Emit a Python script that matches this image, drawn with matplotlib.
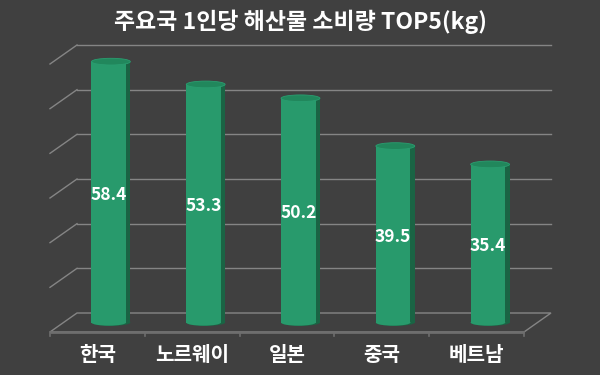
import matplotlib.pyplot as plt
from matplotlib.patches import Ellipse, Rectangle, Polygon

plt.rcParams['font.family'] = ['Noto Sans CJK KR', 'DejaVu Sans']

# Data
countries = ['한국', '노르웨이', '일본', '중국', '베트남']
values = [58.4, 53.3, 50.2, 39.5, 35.4]
y_ticks = [0, 10, 20, 30, 40, 50, 60]
title = '주요국 1인당 해산물 소비량 TOP5(kg)'

# Colours
bg = '#404040'
grid_c = '#858585'
body_c = '#289a6c'
side_c = '#1a6444'
top_c = '#21875c'

fig = plt.figure(figsize=(6, 3.75), dpi=100, facecolor=bg)
# front plane: x 50..524 px, y 332..64 px
ax = fig.add_axes([50 / 600, 43 / 375, 474 / 600, 268 / 375])
ax.set_facecolor('none')
ax.set_xlim(0, 5)
ax.set_ylim(0, 60)
ax.axis('off')

# depth offset (27 px right, 19 px up) in data units
dx = 27 / (474 / 5)
dy = 19 / (268 / 60)

# floor
floor = Polygon([(0, 0), (5, 0), (5 + dx, dy), (dx, dy)], closed=True,
                facecolor='none', edgecolor=grid_c, lw=1, clip_on=False)
ax.add_patch(floor)
ax.plot([0, 5], [0, 0], color='#6e6e6e', lw=2, clip_on=False, solid_capstyle='butt')
for i in range(6):
    ax.plot([i, i], [0, -0.8], color='#6e6e6e', lw=1.2, clip_on=False)

# back wall grid + left wall diagonals
for t in y_ticks[1:]:
    ax.plot([dx, 5 + dx], [t + dy, t + dy], color=grid_c, lw=1, clip_on=False)
    ax.plot([0, dx], [t, t + dy], color=grid_c, lw=1, clip_on=False)

# cylinders
w = 0.41
side_w = 0.045
eh = 1.5
for i, v in enumerate(values):
    xc = i + 0.5 + dx / 2
    y0 = dy / 2
    y1 = v + dy / 2
    x0 = xc - w / 2
    ax.add_patch(Ellipse((xc, y0), w, eh, facecolor=side_c, edgecolor='none', clip_on=False, zorder=3))
    ax.add_patch(Rectangle((x0, y0), w, v, facecolor=side_c, edgecolor='none', clip_on=False, zorder=3))
    ax.add_patch(Ellipse((xc - side_w / 2, y0), w - side_w, eh * 0.95, facecolor=body_c,
                         edgecolor='none', clip_on=False, zorder=4))
    ax.add_patch(Rectangle((x0, y0), w - side_w, v, facecolor=body_c, edgecolor='none',
                           clip_on=False, zorder=4))
    ax.add_patch(Ellipse((xc, y1), w, eh, facecolor=top_c, edgecolor='#2a9d70', lw=0.6,
                         clip_on=False, zorder=5))
    ax.text(xc - side_w / 2, y0 + v / 2 - 0.6, f'{v:.1f}', color='white', fontsize=12.5,
            fontweight='bold', ha='center', va='center', zorder=6)

for i, c in enumerate(countries):
    ax.text(i + 0.5, -5.0, c, color='white', fontsize=14.5, fontweight='bold',
            ha='center', va='center', clip_on=False)

fig.text(0.5, 1 - 22 / 375, title, color='white', fontsize=16.5, fontweight='bold',
         ha='center', va='center')

fig.savefig('out.png', dpi=100, facecolor=bg)
